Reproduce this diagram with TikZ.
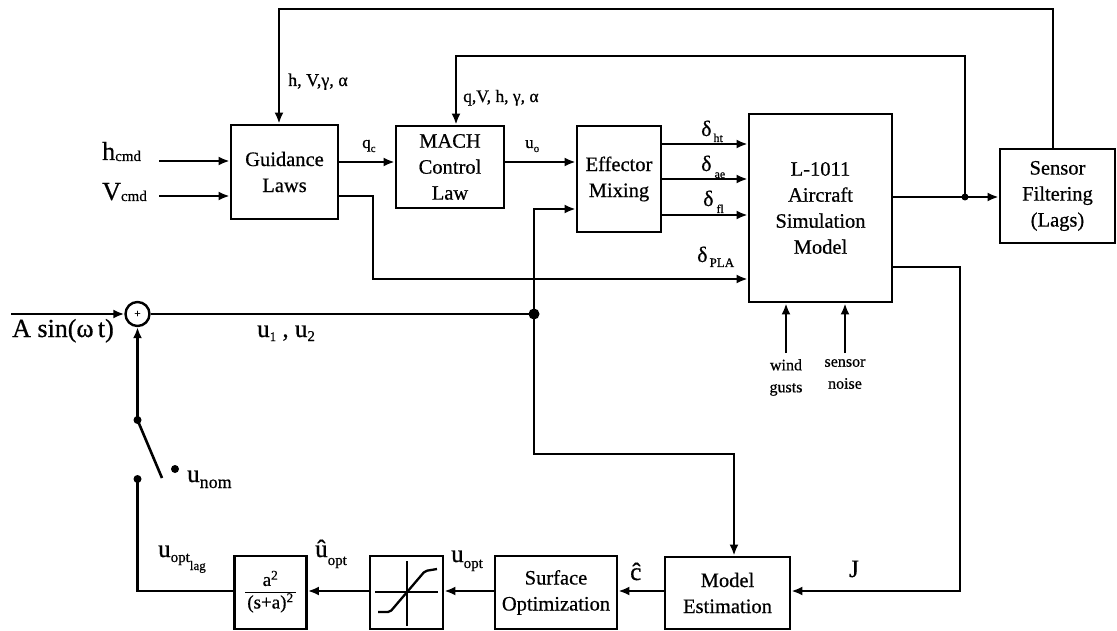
\documentclass[tikz,border=0pt]{standalone}
\usepackage{fontspec}
\setmainfont{Liberation Serif}[FakeBold=0.6]
\usetikzlibrary{arrows.meta,calc}
\newcommand{\myfs}[1]{\fontsize{#1}{#1}\selectfont}
\newcommand{\mysub}[3]{\raisebox{-#1pt}{\fontsize{#2}{#2}\selectfont #3}}
\begin{document}
\begin{tikzpicture}[x=1pt,y=-1pt,
  box/.style={draw,line width=2.8pt,inner sep=0pt,align=center,font=\fontsize{20.5}{26}\selectfont},
  ln/.style={line width=2.6pt},
  arr/.style={line width=2.6pt,-{Latex[length=11pt,width=9pt]}},
  dot/.style={circle,fill,inner sep=0pt,minimum size=#1},
  dot/.default=8pt,
  lbl/.style={inner sep=0pt}]
\useasboundingbox (0,0) rectangle (1117,631);

% blocks
\node[box,minimum width=107pt,minimum height=94pt] (guid) at (284.5,172) {Guidance\\Laws};
\node[box,minimum width=108pt,minimum height=82pt] (mach) at (450,167) {MACH\\Control\\Law};
\node[box,minimum width=84pt,minimum height=106pt] (eff) at (619,179) {Effector\\Mixing};
\node[box,minimum width=143pt,minimum height=188pt] (sim) at (820.5,208) {L-1011\\Aircraft\\Simulation\\Model};
\node[box,minimum width=115pt,minimum height=94pt] (sens) at (1057.5,196) {Sensor\\Filtering\\(Lags)};
\node[box,minimum width=125pt,minimum height=72pt] (mest) at (727.5,593) {Model\\Estimation};
\node[box,minimum width=122pt,minimum height=73pt] (surf) at (556,592.5) {Surface\\Optimization};
\node[box,minimum width=73pt,minimum height=73pt] (sat) at (406.5,592.5) {};
\node[box,minimum width=72pt,minimum height=73pt] (filt) at (270.5,592.5)
  {{\myfs{19}\setlength{\arrayrulewidth}{1.8pt}\begin{tabular}{@{\hspace{2pt}}c@{\hspace{2pt}}}a\textsuperscript{2}\tabularnewline\hline (s+a)\textsuperscript{2}\end{tabular}}};

% saturation icon
\draw[line width=2.3pt] (375,592) -- (438,592);
\draw[line width=2.3pt] (407,561) -- (407,626);
\draw[line width=2.3pt,rounded corners=2pt] (378,612) -- (390,612) -- (425,571) -- (437,569);

% summing junction and dots
\node[draw,circle,line width=2.4pt,minimum size=24pt,inner sep=0pt] (sum) at (137.5,314) {\myfs{11}+};
\node[dot=11pt] (d1) at (534,314) {};
\node[dot=7pt] (j1) at (965,197) {};
\node[dot] (sw1) at (137.5,420) {};
\node[dot] (sw2) at (137.5,479) {};
\node[dot] (unom) at (175,469) {};

% inputs
\node[lbl,anchor=base west] (hcmd) at (102,160) {\myfs{26}h\mysub{1}{15}{cmd}};
\node[lbl,anchor=base west] (vcmd) at (102,200) {\myfs{26}V\mysub{1}{15}{cmd}};
\coordinate (hc) at (159,161);
\coordinate (vc) at (159,196);
\draw[arr] (hc) -- (hc -| guid.west);
\draw[arr] (vc) -- (vc -| guid.west);

% forward path
\draw[arr] (guid.east |- 0,162) -- (mach.west |- 0,162);
\draw[arr] (mach.east |- 0,162) -- (eff.west |- 0,162);
\draw[arr] (eff.east |- 0,144) -- (sim.west |- 0,144);
\draw[arr] (eff.east |- 0,179) -- (sim.west |- 0,179);
\draw[arr] (eff.east |- 0,215) -- (sim.west |- 0,215);
\draw[arr] (guid.east |- 0,196) -| (373,279) -- (sim.west |- 0,279);
\draw[ln] (sim.east |- 0,197) -- (j1.center);
\draw[arr] (j1.center) -- (sens.west |- 0,197);

% feedbacks
\coordinate (fb1) at (279,9);
\draw[arr] (sens.north -| 1053,0) |- (fb1) -- (fb1 |- guid.north);
\coordinate (fb2) at (456,56);
\draw[arr] (j1.center) |- (fb2) -- (fb2 |- mach.north);

% disturbance inputs
\coordinate (w1) at (786,353);
\coordinate (w2) at (845,353);
\draw[arr] (w1) -- (w1 |- sim.south);
\draw[arr] (w2) -- (w2 |- sim.south);
\node[lbl,anchor=north,align=center,font=\fontsize{16}{22}\selectfont] (wind) at (786,359) {wind\\gusts};
\node[lbl,anchor=north,align=center,font=\fontsize{16}{22}\selectfont] (snoise) at (845,359) {sensor\\noise};

% perturbation and sum
\coordinate (in) at (11,314);
\draw[arr] (in) -- (sum.west);
\draw[ln] (sum.east) -- (d1.center);
\draw[arr] (d1.center) |- (eff.west |- 0,209);
\coordinate (c2) at (734,454);
\draw[arr] (d1.center) |- (c2) -- (c2 |- mest.north);

% cost J
\coordinate (jc) at (960,591);
\draw[arr] (sim.east |- 0,267) -| (jc) -- (jc -| mest.east);

% lower loop
\draw[arr] (mest.west |- 0,591) -- (surf.east |- 0,591);
\draw[arr] (surf.west |- 0,591) -- (sat.east |- 0,591);
\draw[arr] (sat.west |- 0,591) -- (filt.east |- 0,591);
\draw[ln] (filt.west |- 0,591) -| (sw2.center);
\draw[ln] (sw1.center) -- (162,478);
\draw[arr] (sw1.center) -- (sum.south);

% labels
\node[lbl,anchor=base west] (lfb1) at (288,86) {\myfs{18}h, V,γ, α};
\node[lbl,anchor=base west] (lfb2) at (463,102) {\myfs{17.5}q,V, h, γ, α};
\node[lbl,anchor=base west] (lqc) at (362,148) {\myfs{17}q\mysub{4}{11}{c}};
\node[lbl,anchor=base west] (luo) at (525,148) {\myfs{17}u\mysub{4}{11}{o}};
\node[lbl,anchor=base west] (ldht) at (701,136) {\myfs{22}δ\hspace{2pt}\mysub{6}{12}{ht}};
\node[lbl,anchor=base west] (ldae) at (701,171) {\myfs{22}δ\hspace{3pt}\mysub{7}{12}{ae}};
\node[lbl,anchor=base west] (ldfl) at (703,206) {\myfs{22}δ\hspace{3pt}\mysub{7}{12}{fl}};
\node[lbl,anchor=base west] (ldpla) at (697,262) {\myfs{22}δ\hspace{2pt}\mysub{5}{13}{PLA}};
\node[lbl,anchor=base west] (lsin) at (12,337) {\myfs{26}A sin(ω\,t)};
\node[lbl,anchor=base west] (lu12) at (257,337) {\myfs{25}u\mysub{4}{13}{1} , u\mysub{4}{15}{2}};
\node[lbl,anchor=base west] (lunom) at (187,482) {\myfs{25}u\mysub{6}{18}{nom}};
\node[lbl,anchor=base west] (lulag) at (158,557) {\myfs{25}u\mysub{5}{15}{opt\mysub{8}{13}{lag}}};
\node[lbl,anchor=base west] (luhat) at (315,557) {\myfs{25}û\mysub{8}{15}{opt}};
\node[lbl,anchor=base west] (luopt) at (451,562) {\myfs{25}u\mysub{6}{15}{opt}};
\node[lbl,anchor=base west] (lchat) at (630,580) {\myfs{25}ĉ};
\node[lbl,anchor=base west] (lJ) at (849,577) {\myfs{25}J};
\end{tikzpicture}
\end{document}
